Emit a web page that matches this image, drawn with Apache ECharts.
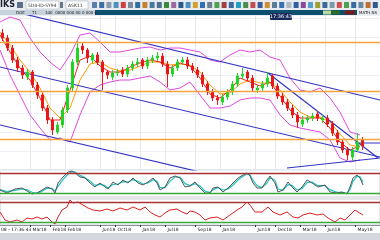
<!DOCTYPE html>
<html><head><meta charset="utf-8">
<script src="https://cdn.jsdelivr.net/npm/echarts/dist/echarts.min.js"></script>
<style>html,body{margin:0;padding:0;background:#fff;overflow:hidden}#c{width:380px;height:240px}</style>
</head><body><div id="c"></div>
<script>
// ---- price candles (one per bar) ----
const opens  = [232,227,217,205,197,188,193,180,170,157,145,133,140,155,177,203,219,215,205,210,203,193,188,192,195,191,197,201,205,199,205,207,209,201,191,197,203,205,199,195,190,181,173,167,163,168,173,181,189,193,187,175,177,181,189,179,169,163,157,150,141,145,147,151,145,147,141,132,123,115,108,115,125];
const closes = [227,217,205,197,190,193,180,170,157,145,135,140,155,177,203,217,215,207,210,203,193,190,192,193,191,197,201,203,199,205,207,209,201,191,197,203,205,199,195,190,181,173,167,165,168,173,181,189,191,187,177,177,181,187,179,169,163,157,150,143,145,147,149,147,147,141,132,123,115,110,115,123,119];
const highs  = [236,230,220,208,200,196,195,183,172,160,148,143,158,180,206,224,223,217,212,213,205,195,195,196,198,200,204,207,207,208,210,213,212,204,200,206,208,208,202,198,193,184,176,170,171,176,184,192,197,195,190,180,184,193,191,182,172,166,160,153,149,150,152,154,150,150,144,135,126,118,118,132,128];
const lows   = [224,214,202,193,186,185,177,166,154,141,130,131,137,152,174,200,211,202,202,200,175,186,185,189,188,188,194,198,196,196,202,204,198,178,188,194,200,196,192,187,178,170,164,160,160,165,170,178,186,184,174,172,174,178,176,166,160,154,147,137,138,142,144,144,142,138,129,120,112,105,104,113,115];
const barCount = 76;

// ---- overlays sampled every 2 bars ----
const sampleT   = [0,2,4,6,8,10,12,14,16,18,20,22,24,26,28,30,32,34,36,38,40,42,44,46,48,50,52,54,56,58,60,62,64,66,68,70,72];
const bandUpper = [243,248,245,227,213,203,195,210,230,232,223,213,213,215,217,218,215,217,217,215,213,205,203,210,215,213,215,208,205,187,175,173,177,167,153,133,130];
const bandLower = [215,190,170,150,137,125,127,123,150,173,180,183,185,185,187,189,183,175,177,183,170,157,157,159,165,167,167,165,150,140,137,135,133,125,107,103,105];
const maFast    = [230,213,197,185,167,145,145,175,205,209,199,193,193,198,202,205,203,197,202,199,187,171,167,175,187,183,179,183,169,155,147,147,147,137,123,115,119];
const maSlow    = [233,220,205,193,177,157,147,157,185,201,203,197,194,195,199,203,203,200,201,200,193,180,171,172,181,185,182,182,175,163,153,148,148,143,131,120,118];

// ---- trend lines [t, price] pairs ----
const trendLines = [
  [[4,252],[76,165]],
  [[0,198],[76,108]],
  [[0,140],[40,93]],
  [[53.6,192],[75.6,107]],
  [[57.4,97],[76,107]],
  [[71,122],[76,122]]
];
const levels = [223,174,126];

// ---- oscillator ----
const oscT      = [0,1.4,3,4.4,5.4,6.4,7.4,8.4,9.4,10.4,11,11.6,12.6,13.6,14.4,15,16,17,18,19,20,21,21.6,22.6,23.6,24.6,25.6,26.6,27.6,28.6,29.6,30.6,31.4,32,33,34,35,36,37,38,39,40,41,42,42.6,43.6,44.6,45.6,46.6,47.6,48.6,49.4,50,50.6,51.4,52.4,53.4,54,55,55.6,56.6,57.6,58.4,59.4,60.4,61.4,62.4,63.6,65,66,67.4,68.4,69.4,70,70.6,71.4,72,72.6];
const oscMain   = [29,20,32,35,26,17,20,29,38,32,20,50,68,83,86,80,68,65,50,38,50,38,32,53,44,59,50,65,50,44,53,65,50,29,38,65,71,65,38,41,53,35,20,20,35,38,23,35,50,65,74,80,71,50,35,35,59,71,50,23,29,53,38,23,38,59,50,38,44,23,20,23,17,38,65,74,65,44];
const oscSignal = [30,24,28,32,30,22,19,25,34,34,26,40,60,77,84,83,73,66,56,43,46,42,35,46,47,54,53,60,55,47,50,60,55,36,36,55,68,68,48,42,48,41,26,21,30,36,29,32,44,59,70,77,75,58,42,36,50,66,58,32,28,45,43,29,33,51,53,42,42,30,22,22,19,30,55,70,69,52];
const oscLevels = [80,20];

// ---- RSI ----
const rsiT   = [0,1,2,3.4,4.4,5.4,6.4,7.4,8.4,9.4,10.4,11,11.6,12.4,13.4,14,14.6,15.6,16.6,17.6,18.6,20,21.4,22.6,24,25.4,26.6,28,29,30,31,32,33,34,35.4,36.4,37.4,38,39,40,41,42,43.4,44.6,46,47.4,48.4,49.4,50,51,52.4,53.6,54.6,56,57.4,58.6,59.6,60.6,62,63.4,64.6,65.6,67,68,69,70,71,71.6,72.6];
const rsiVal = [50,34,30,34,30,38,36,40,36,40,30,26,40,54,60,74,68,70,64,58,54,52,56,52,58,54,60,54,60,50,44,40,48,54,56,50,46,52,50,44,34,38,40,34,44,54,60,70,64,50,50,60,50,44,50,40,38,44,48,44,46,38,30,38,34,44,54,50,44];
const rsiLevels = [70,30];

// ---- time axis labels ----
const tickIdx  = [6,10,13,20,23,28,33,39,44,51,55,60,65,71];
const tickText = ['Mar18','Feb18','Feb18','Jun18','Oct18','Jan18','Jul18','Sep18','Jan18','Jun18','Dec18','Mar18','Jun18','May18'];

const cats = Array.from({length: barCount}, (_, i) => String(i));
const candleData = opens.map((o, i) => [o, closes[i], lows[i], highs[i]]);
const pair = (ts, vs) => ts.map((t, i) => [t, vs[i]]);
const isTick = (i) => tickIdx.indexOf(i) >= 0;

const FONT = 'DejaVu Sans';
const lineS = (name, xi, yi, data, color, w) => ({
  name, type: 'line', xAxisIndex: xi, yAxisIndex: yi, data, symbol: 'none', showSymbol: false,
  lineStyle: {color, width: w}, z: 3, silent: true, animation: false
});
const refLine = (v, color) => ({yAxis: v, lineStyle: {color, width: 1.4, type: 'solid'}});

const series = [
  lineS('bbU', 1, 0, pair(sampleT, bandUpper), '#e048e0', 1),
  lineS('bbL', 1, 0, pair(sampleT, bandLower), '#e048e0', 1),
  {
    type: 'candlestick', xAxisIndex: 0, yAxisIndex: 0, data: candleData, barWidth: 2,
    itemStyle: {color: '#22d422', color0: '#e81818', borderColor: '#22d422', borderColor0: '#e81818', borderWidth: 1},
    z: 4, animation: false,
    markLine: {
      symbol: 'none', silent: true, animation: false, label: {show: false},
      lineStyle: {color: '#f5a33a', width: 1.3, type: 'solid'},
      data: levels.map(v => ({yAxis: v}))
    }
  },
  lineS('maSlow', 1, 0, pair(sampleT, maSlow), '#ff9a00', 1),
  lineS('maFast', 1, 0, pair(sampleT, maFast), '#ff2020', 1),
  lineS('osSig', 2, 1, pair(oscT, oscSignal), '#22c4c4', 1.2),
  Object.assign(lineS('osMain', 2, 1, pair(oscT, oscMain), '#555555', 1), {
    markLine: {symbol: 'none', silent: true, animation: false, label: {show: false},
      data: [refLine(oscLevels[0], '#a83232'), refLine(oscLevels[1], '#38a838')]}
  }),
  Object.assign(lineS('rsi', 3, 2, pair(rsiT, rsiVal), '#e02020', 1), {
    markLine: {symbol: 'none', silent: true, animation: false, label: {show: false},
      data: [refLine(rsiLevels[0], '#a83232'), refLine(rsiLevels[1], '#38a838')]}
  })
];
trendLines.forEach((ln, k) => series.push(lineS('tl' + k, 1, 0, ln, '#3434c4', 1.2)));

// decorative toolbar icons
const iconColors = ['#5a7fa8','#3b6ea5','#8a9aaa','#4a90c0','#d04040','#7a8a9a','#2f6f9f','#c08030','#4a7aa0','#507090','#3a8a3a','#9a6aa0','#2a5a8a','#4a90c0','#d0a030','#3070b0','#6a8090','#50a050','#a04040','#3a6aa0','#20a0c0','#4a8a4a','#c05050','#3a5a9a','#d09030','#5a7a9a','#3a70b0','#b0b8c0','#3060a0','#8a4a9a','#50a0d0','#a0a030','#3a6a9a','#7a9ab0','#d05050','#50a050','#3a6aa0','#6a8aa0','#c07030','#305a8a'];
const graphic = [
  {type: 'rect', shape: {x: 0, y: 0, width: 380, height: 10}, style: {fill: '#e8ecf1'}, z: 10},
  {type: 'text', x: 0, y: 1, style: {text: 'IKS', font: 'bold 8px ' + FONT, fill: '#1c2030'}, z: 11},
  {type: 'rect', shape: {x: 17, y: 2, width: 6, height: 6}, style: {fill: '#5a6f8a'}, z: 11},
  {type: 'rect', shape: {x: 26, y: 1, width: 33, height: 8}, style: {fill: '#fff', stroke: '#9aa4b0', lineWidth: 0.5}, z: 11},
  {type: 'text', x: 28, y: 3, style: {text: '5D4-ID-SY94', font: '4.5px ' + FONT, fill: '#333'}, z: 12},
  {type: 'rect', shape: {x: 60, y: 2, width: 3, height: 6}, style: {fill: '#6a7a8a'}, z: 11},
  {type: 'rect', shape: {x: 66, y: 1, width: 22, height: 8}, style: {fill: '#fff', stroke: '#9aa4b0', lineWidth: 0.5}, z: 11},
  {type: 'text', x: 68, y: 3, style: {text: 'ASK11', font: '4.5px ' + FONT, fill: '#333'}, z: 12},
  {type: 'rect', shape: {x: 0, y: 10, width: 95, height: 5}, style: {fill: '#c6d2dc'}, z: 10},
  {type: 'text', x: 16, y: 10.5, style: {text: 'DGE', font: '4px ' + FONT, fill: '#222'}, z: 11},
  {type: 'text', x: 32, y: 10.5, style: {text: '71', font: '4px ' + FONT, fill: '#222'}, z: 11},
  {type: 'text', x: 45, y: 10.5, style: {text: '1d0  0000 000 00 0 000 ▾', font: '4px ' + FONT, fill: '#222'}, z: 11},
  {type: 'rect', shape: {x: 95, y: 10, width: 285, height: 5}, style: {fill: '#0d4f6e'}, z: 10},
  {type: 'rect', shape: {x: 323, y: 10.5, width: 8, height: 4}, style: {fill: '#b9d9a2'}, z: 11},
  {type: 'rect', shape: {x: 331, y: 10.5, width: 9, height: 4}, style: {fill: '#2b6b2b'}, z: 11},
  {type: 'rect', shape: {x: 345, y: 10.5, width: 10, height: 4}, style: {fill: '#7a1a1a'}, z: 11},
  {type: 'rect', shape: {x: 357, y: 10, width: 23, height: 5}, style: {fill: '#e8ecf0'}, z: 11},
  {type: 'text', x: 359, y: 10.5, style: {text: 'MATH.NS', font: '4px ' + FONT, fill: '#222'}, z: 12},
  {type: 'rect', shape: {x: 270, y: 13, width: 22, height: 7, r: 1}, style: {fill: '#17285a'}, z: 12},
  {type: 'text', x: 281, y: 16.5, style: {text: '17:36:43', font: '5px ' + FONT, fill: '#fff', align: 'center', verticalAlign: 'middle'}, z: 13},
  {type: 'rect', shape: {x: 0, y: 233, width: 380, height: 7}, style: {fill: '#d4d8de'}, z: 10},
  {type: 'text', x: 1, y: 227.5, style: {text: '08 - 17:36:43', font: '4.5px ' + FONT, fill: '#222'}, z: 11}
];
iconColors.forEach((c, k) => {
  const x = 92 + k * 7.2;
  if (x < 378) graphic.push({type: 'rect', shape: {x, y: 2, width: 5, height: 6, r: 0.5}, style: {fill: c}, z: 11});
});

const valX = (g) => ({type: 'value', gridIndex: g, min: 0, max: barCount, show: false});
const option = {
  animation: false,
  backgroundColor: '#ffffff',
  grid: [
    {left: 0, right: 0, top: 15, height: 155},
    {left: 0, right: 0, top: 170, height: 27, show: true, borderColor: '#c8ccd2', borderWidth: 1},
    {left: 0, right: 0, top: 199, height: 26, show: true, borderColor: '#c8ccd2', borderWidth: 1}
  ],
  xAxis: [
    {type: 'category', gridIndex: 0, data: cats, axisLine: {show: false}, axisTick: {show: false}, axisLabel: {show: false},
     splitLine: {show: true, interval: isTick, lineStyle: {color: '#e4e8ee', width: 1}}},
    valX(0), valX(1), valX(2),
    {type: 'category', gridIndex: 2, data: cats, position: 'bottom',
     axisLine: {show: true, lineStyle: {color: '#8a9098'}},
     axisTick: {show: true, interval: isTick, length: 2, lineStyle: {color: '#333'}},
     axisLabel: {show: true, interval: isTick, formatter: (v, i) => tickText[tickIdx.indexOf(i)] || '',
                 fontSize: 4.5, fontFamily: FONT, color: '#222', margin: 2.5, align: 'left'},
     splitLine: {show: false}}
  ],
  yAxis: [
    {type: 'value', gridIndex: 0, min: 95, max: 250, interval: 19, axisLabel: {show: false}, axisLine: {show: false}, axisTick: {show: false},
     splitLine: {show: true, lineStyle: {color: '#eceff3', width: 1}}},
    {type: 'value', gridIndex: 1, min: 8, max: 89, show: false, splitLine: {show: false}},
    {type: 'value', gridIndex: 2, min: 24, max: 76, show: false, splitLine: {show: false}}
  ],
  graphic,
  series
};
const chart = echarts.init(document.getElementById('c'), null, {renderer: 'canvas'});
chart.setOption(option);
</script>
</body></html>
